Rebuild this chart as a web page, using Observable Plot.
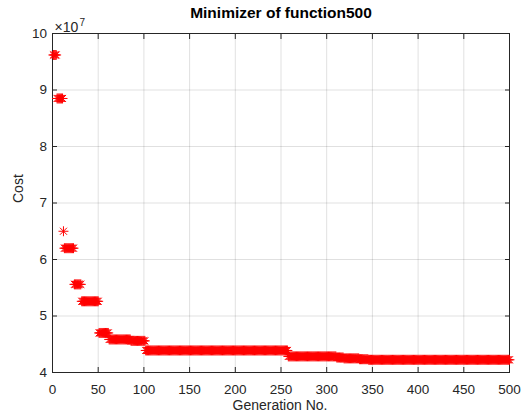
<!DOCTYPE html>
<html><head><meta charset="utf-8">
<script src="https://cdn.jsdelivr.net/npm/d3@7"></script>
<script src="https://cdn.jsdelivr.net/npm/@observablehq/plot@0.6"></script>
<style>body{margin:0;background:#fff} svg{display:block}</style>
</head><body><div id="chart"></div>
<script>
// Step segments of best cost per generation (cost in units of 1e7)
const genStart = [1, 5, 12, 13, 24, 32, 51, 62, 86, 102, 258, 311, 319, 336, 346];
const genEnd   = [4, 11, 12, 23, 31, 50, 61, 85, 101, 257, 310, 318, 335, 345, 500];
const cost     = [9.62, 8.85, 6.50, 6.20, 5.56, 5.26, 4.70, 4.585, 4.56, 4.39, 4.285, 4.265, 4.25, 4.235, 4.225];

const xTicks = [0, 50, 100, 150, 200, 250, 300, 350, 400, 450, 500];
const yTicks = [4, 5, 6, 7, 8, 9, 10];
const title = "Minimizer of function500";
const xLabel = "Generation No.";
const yLabel = "Cost";
const expBase = "×10";
const expPow = "7";
const scale = 1e7;

const rows = [];
genStart.forEach((s, i) => {
  for (let g = s; g <= genEnd[i]; g++) rows.push({gen: g, cost: cost[i] * scale});
});
const yTickVals = yTicks.map(d => d * scale);

const font = "'Liberation Sans', Arial, Helvetica, sans-serif";
const ink = "#262626";

const chart = Plot.plot({
  width: 521, height: 412,
  marginLeft: 52, marginRight: 12, marginTop: 33, marginBottom: 40,
  style: {fontFamily: font, fontSize: "13.5px", color: ink, background: "#fff", overflow: "visible"},
  x: {domain: [0, 500]},
  y: {domain: [4 * scale, 10 * scale]},
  marks: [
    Plot.gridX(xTicks, {stroke: "#000", strokeOpacity: 0.12}),
    Plot.gridY(yTickVals, {stroke: "#000", strokeOpacity: 0.12}),
    Plot.frame({stroke: ink, strokeWidth: 1}),
    Plot.axisX(xTicks, {anchor: "bottom", tickSize: -5, tickPadding: 17, label: null, stroke: ink, fill: ink, fontSize: 13.5}),
    Plot.axisX(xTicks, {anchor: "top", tickSize: -5, tickFormat: () => "", label: null, stroke: ink}),
    Plot.axisY(yTickVals, {anchor: "left", tickSize: -5, tickPadding: 10.5, tickFormat: d => d / scale, label: null, stroke: ink, fill: ink, fontSize: 13.5}),
    Plot.axisY(yTickVals, {anchor: "right", tickSize: -5, tickFormat: () => "", label: null, stroke: ink}),
    Plot.dot(rows, {x: "gen", y: "cost", symbol: "plus", r: 3.3, stroke: "red", fill: "none", strokeWidth: 1}),
    Plot.dot(rows, {x: "gen", y: "cost", symbol: "times", r: 3.3, stroke: "red", fill: "none", strokeWidth: 1}),
    Plot.text([title], {frameAnchor: "top", lineAnchor: "middle", dy: -20, fontWeight: "bold", fontSize: 15.5, fill: "#000"}),
    Plot.text([xLabel], {frameAnchor: "bottom", lineAnchor: "middle", dy: 33.5, dx: -1, fontSize: 14, fill: ink}),
    Plot.text([yLabel], {frameAnchor: "left", lineAnchor: "middle", dx: -34, rotate: -90, fontSize: 14, fill: ink}),
    Plot.text([expBase], {frameAnchor: "top-left", lineAnchor: "middle", textAnchor: "start", dx: 2, dy: -6, fontSize: 14, fill: ink}),
    Plot.text([expPow], {frameAnchor: "top-left", lineAnchor: "middle", textAnchor: "start", dx: 27, dy: -11, fontSize: 10, fill: ink})
  ]
});
document.getElementById("chart").append(chart);
</script>
</body></html>
